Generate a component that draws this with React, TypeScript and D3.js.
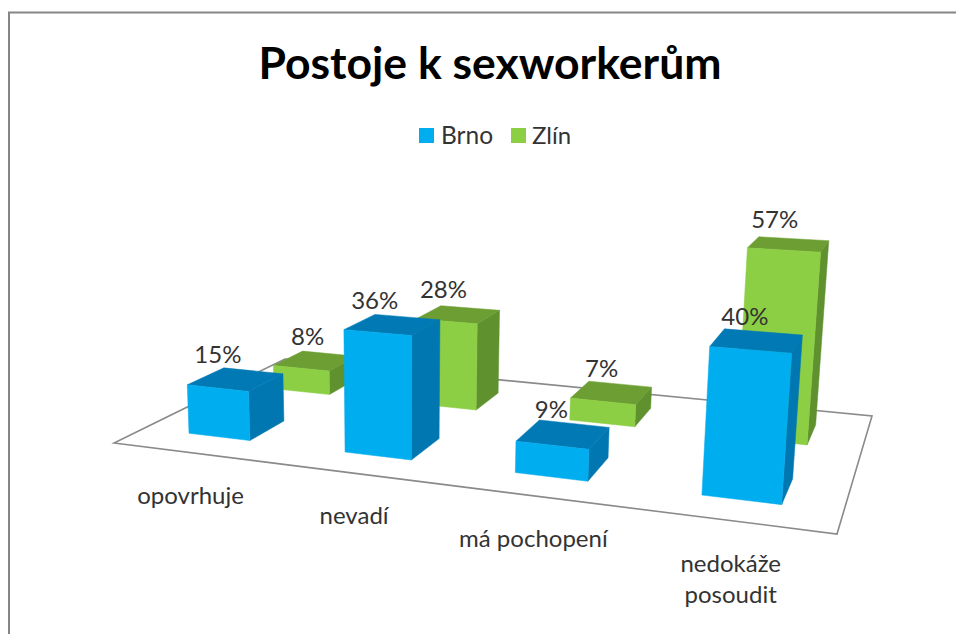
import React from "react";
import * as d3 from "d3";

const categories = ["opovrhuje", "nevadí", "má pochopení", "nedokáže posoudit"];
const categoryLines = [["opovrhuje"], ["nevadí"], ["má pochopení"], ["nedokáže", "posoudit"]];
const seriesNames = ["Brno", "Zlín"];
const brnoValues = [15, 36, 9, 40];
const zlinValues = [8, 28, 7, 57];
const palette = {
  Brno: { front: "#00ADEF", top: "#0079B4", side: "#0077B0" },
  Zlín: { front: "#8CCF45", top: "#6C9E33", side: "#5F912E" },
} as const;

const W = 956, H = 634;
const FONT = "Lato, 'Open Sans', sans-serif";

// floor quad in picture space: front-left, front-right, back-right, back-left
const floor: [number, number][] = [[114, 443], [837, 534], [872, 416], [285, 359]];
const [p0, p1, p2, p3] = floor;
const dx1 = p1[0] - p2[0], dy1 = p1[1] - p2[1], dx2 = p3[0] - p2[0], dy2 = p3[1] - p2[1];
const sx = p0[0] - p1[0] + p2[0] - p3[0], sy = p0[1] - p1[1] + p2[1] - p3[1];
const det = dx1 * dy2 - dx2 * dy1;
const g = (sx * dy2 - dx2 * sy) / det;
const h = (dx1 * sy - sx * dy1) / det;
const a = p1[0] - p0[0] + g * p1[0], b = p3[0] - p0[0] + h * p3[0];
const c = p1[1] - p0[1] + g * p1[1], d = p3[1] - p0[1] + h * p3[1];

// height axis: percent -> homogeneous lift, vanishing point far below the chart
const zScale = d3.scaleLinear().domain([0, 100]).range([0, 352]);
const vanishX = 400, vanishY = 6250;
function project(u: number, v: number, pct: number): [number, number] {
  const lift = zScale(pct);
  const k = -lift / vanishY;
  const w = 1 + g * u + h * v + k;
  return [
    (a * u + b * v + p0[0] + k * vanishX) / w,
    (c * u + d * v + p0[1] - lift) / w,
  ];
}

const uScale = d3.scaleBand<string>().domain(categories).range([0, 1]).paddingInner(0.6).paddingOuter(0.3);
const vScale = d3.scaleBand<string>().domain(seriesNames).range([0, 1]).paddingInner(0.6).paddingOuter(0.3);
const poly = d3.line<[number, number]>().curve(d3.curveLinearClosed);

// label nudges relative to the bar top, in pixels
const brnoLabelShift = [-18, -18, -12, -12];
const zlinLabelShift = [-8, -15, -10, -14];

function Bar({ cat, series, value }: { cat: string; series: "Brno" | "Zlín"; value: number }) {
  const u0 = uScale(cat)!, u1 = u0 + uScale.bandwidth();
  const v0 = vScale(series)!, v1 = v0 + vScale.bandwidth();
  const col = palette[series];
  return (
    <g>
      <path d={poly([project(u1, v0, 0), project(u1, v1, 0), project(u1, v1, value), project(u1, v0, value)])!} fill={col.side} stroke={col.side} strokeWidth={0.5} />
      <path d={poly([project(u0, v0, value), project(u1, v0, value), project(u1, v1, value), project(u0, v1, value)])!} fill={col.top} stroke={col.top} strokeWidth={0.5} />
      <path d={poly([project(u0, v0, 0), project(u1, v0, 0), project(u1, v0, value), project(u0, v0, value)])!} fill={col.front} stroke={col.front} strokeWidth={0.5} />
    </g>
  );
}

function ValueLabel({ cat, series, value, shift }: { cat: string; series: string; value: number; shift: number }) {
  const u = uScale(cat)! + uScale.bandwidth() / 2;
  const v = vScale(series)! + vScale.bandwidth() / 2;
  const [x, y] = project(u, v, value);
  return (
    <text x={x + shift} y={y - 16} textAnchor="middle" fontSize={24} fontFamily={FONT} fill="#333">
      {value}%
    </text>
  );
}

export default function App() {
  return (
    <svg width={W} height={H} style={{ position: "fixed", left: 0, top: 0, background: "#fff" }}>
      <path d="M9,634 V12.5 H956" fill="none" stroke="#868686" strokeWidth={2} />
      <text x={490} y={79} textAnchor="middle" fontSize={44.5} fontWeight={700} fontFamily={FONT} fill="#000">
        Postoje k sexworkerům
      </text>
      {/* legend */}
      <rect x={419} y={128} width={15} height={15} fill={palette.Brno.front} />
      <text x={441} y={144} fontSize={24.5} fontFamily={FONT} fill="#333">{seriesNames[0]}</text>
      <rect x={511} y={128} width={15} height={15} fill={palette["Zlín"].front} />
      <text x={532} y={144} fontSize={24} fontFamily={FONT} fill="#333">{seriesNames[1]}</text>

      <path d={poly(floor)!} fill="none" stroke="#8a8a8a" strokeWidth={1.6} />
      {categories.map((cat, i) => <Bar key={cat} cat={cat} series="Zlín" value={zlinValues[i]} />)}
      {categories.map((cat, i) => <Bar key={cat} cat={cat} series="Brno" value={brnoValues[i]} />)}
      {categories.map((cat, i) => <ValueLabel key={cat} cat={cat} series="Zlín" value={zlinValues[i]} shift={zlinLabelShift[i]} />)}
      {categories.map((cat, i) => <ValueLabel key={cat} cat={cat} series="Brno" value={brnoValues[i]} shift={brnoLabelShift[i]} />)}
      {categories.map((cat, i) => {
        const [x, y] = project(uScale(cat)! + uScale.bandwidth() / 2, 0, 0);
        return (
          <text key={cat} x={x} y={y + 51} textAnchor="middle" fontSize={24} fontFamily={FONT} fill="#333">
            {categoryLines[i].map((line, j) => (
              <tspan key={line} x={x} dy={j === 0 ? 0 : 31}>{line}</tspan>
            ))}
          </text>
        );
      })}
    </svg>
  );
}
